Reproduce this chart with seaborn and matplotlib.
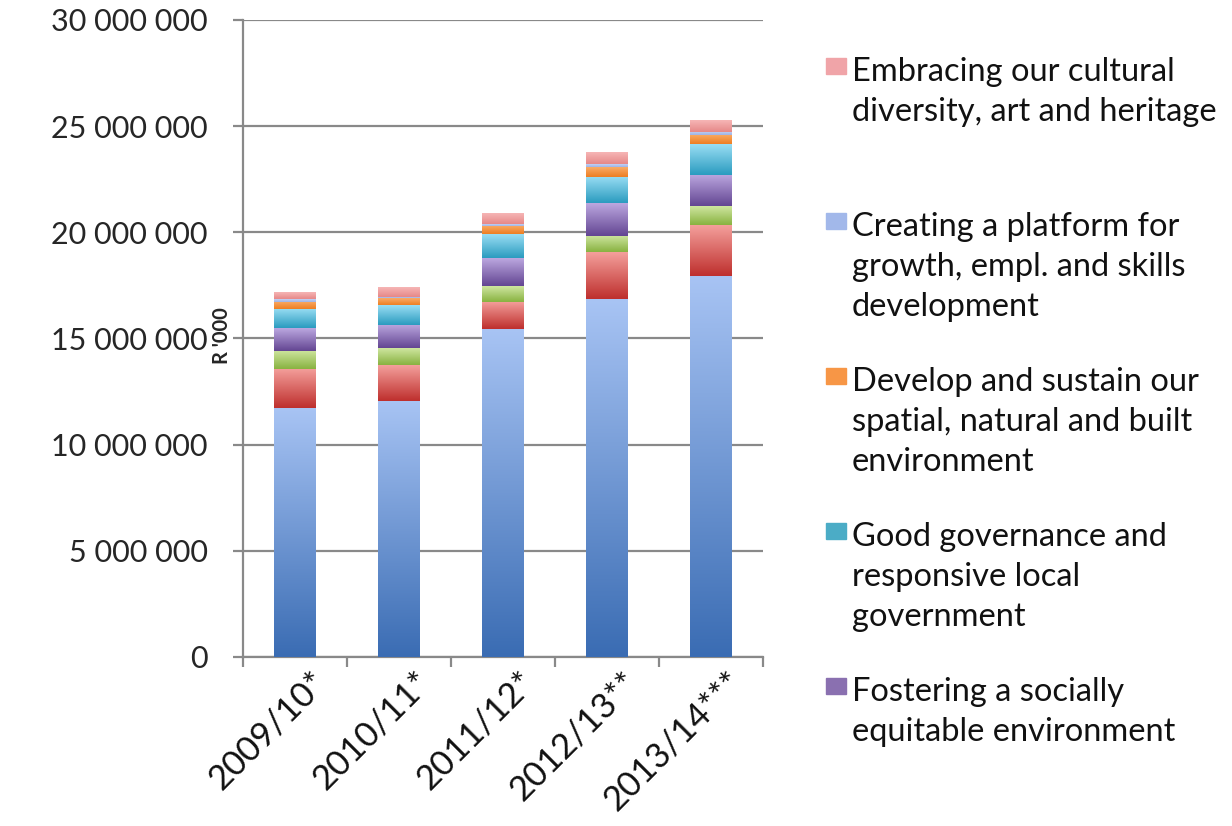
#import the libraries
import numpy as np
import pandas as pd
import matplotlib
matplotlib.use('Agg')
import matplotlib.pyplot as plt
import matplotlib.transforms as mtransforms
from matplotlib.colors import LinearSegmentedColormap
from matplotlib.patches import Rectangle
from matplotlib.ticker import FuncFormatter, FixedLocator, NullFormatter
import seaborn as sns

# data (R '000)
years = ['2009/10*', '2010/11*', '2011/12*', '2012/13**', '2013/14***']

base_blue = [11710000, 12070000, 15450000, 16860000, 17950000]
base_red = [1840000, 1680000, 1290000, 2200000, 2400000]
base_green = [860000, 790000, 740000, 780000, 890000]
fostering = [1070000, 1100000, 1300000, 1530000, 1460000]
governance = [900000, 940000, 1130000, 1250000, 1450000]
spatial = [340000, 320000, 410000, 460000, 440000]
platform = [140000, 70000, 80000, 130000, 150000]
embracing = [300000, 470000, 500000, 560000, 550000]

legend_labels = [
    'Embracing our cultural\ndiversity, art and heritage',
    'Creating a platform for\ngrowth, empl. and skills\ndevelopment',
    'Develop and sustain our\nspatial, natural and built\nenvironment',
    'Good governance and\nresponsive local\ngovernment',
    'Fostering a socially\nequitable environment',
]
legend_colors = ['#f0a4a8', '#a2b8ea', '#f79646', '#4bacc6', '#8a70b0']

# stack order bottom -> top, (dark bottom colour, light top colour)
layers = [
    (base_blue, ('#3a6cb3', '#a8c4f4')),
    (base_red, ('#be2f2d', '#f4a09c')),
    (base_green, ('#88b240', '#cfe6a0')),
    (fostering, ('#634592', '#bca8e0')),
    (governance, ('#2a9bbf', '#9adef4')),
    (spatial, ('#ee7e22', '#f9ac68')),
    (platform, ('#9cb2e6', '#c4d2f4')),
    (embracing, ('#e68888', '#f6b6b6')),
]

sns.set_style('white')
plt.rcParams['font.family'] = ['Lato', 'DejaVu Sans']

W, H = 1232, 826
fig = plt.figure(figsize=(W / 100, H / 100), dpi=100)
ax = fig.add_axes([243 / W, 1 - 657 / H, 520 / W, 637 / H])

bottom = np.zeros(len(years))
for vals, (c_dark, c_light) in layers:
    df = pd.DataFrame({'Year': years, 'Value': vals})
    sns.barplot(data=df, x='Year', y='Value', order=years, bottom=bottom,
                width=0.4, color=c_dark, saturation=1, errorbar=None,
                linewidth=0, ax=ax)
    bottom = bottom + np.array(vals)

# excel style vertical gradient on each segment
grad = np.linspace(0, 1, 256).reshape(-1, 1)
n = len(years)
for i, p in enumerate(ax.patches):
    c_dark, c_light = layers[i // n][1]
    cmap = LinearSegmentedColormap.from_list('g', [c_dark, c_light])
    x0, y0 = p.get_x(), p.get_y()
    w, h = p.get_width(), p.get_height()
    ax.imshow(grad, extent=[x0, x0 + w, y0, y0 + h], origin='lower',
              cmap=cmap, aspect='auto', zorder=3, interpolation='bicubic')

ax.set_xlim(-0.5, 4.5)
ax.set_ylim(0, 30000000)

# axes styling
gray = '#898989'
ax.set_yticks(np.arange(0, 30000001, 5000000))
ax.yaxis.set_major_formatter(FuncFormatter(lambda v, pos: f'{int(v):,}'.replace(',', ' ')))
ax.yaxis.grid(True, color=gray, lw=1.6, zorder=0)
ax.set_axisbelow(True)
for s in ['top', 'right']:
    ax.spines[s].set_visible(False)
for s in ['left', 'bottom']:
    ax.spines[s].set_color(gray)
    ax.spines[s].set_linewidth(1.6)

# x labels: rotated, drawn a bit right of the category centre like excel
ax.set_xticks(range(n))
ax.xaxis.set_major_formatter(NullFormatter())
lab_tr = ax.get_xaxis_transform() + mtransforms.ScaledTranslation(26 / 100, -20 / 100, fig.dpi_scale_trans)
for i, yr in enumerate(years):
    ax.text(i, 0, yr, transform=lab_tr, rotation=45, ha='right', va='center',
            rotation_mode='anchor', fontsize=25, color='#111111')
ax.xaxis.set_minor_locator(FixedLocator(np.arange(-0.5, n, 1)))
ax.tick_params(axis='x', which='major', length=0)
ax.tick_params(axis='x', which='minor', length=7, width=1.6, color=gray,
               direction='out', bottom=True)
ax.tick_params(axis='y', length=7, width=1.6, color=gray, labelsize=22,
               pad=18.5, left=True)
ax.set_xlabel('')
ax.set_ylabel("R '000", fontsize=14.5, fontweight='bold')
ax.yaxis.set_label_coords(-0.022, 0.505)

# legend (only five entries shown, like the original)
cap_tops = [57, 212, 367, 522, 677]
for lab, col, yt in zip(legend_labels, legend_colors, cap_tops):
    fig.patches.append(Rectangle((826 / W, 1 - (yt + 17) / H), 20 / W, 16 / H,
                                 transform=fig.transFigure, color=col))
    fig.text(852 / W, 1 - yt / H, lab, fontsize=23.5, va='top', ha='left',
             linespacing=1.42, color='#111111')

fig.savefig('out.png', dpi=100)
